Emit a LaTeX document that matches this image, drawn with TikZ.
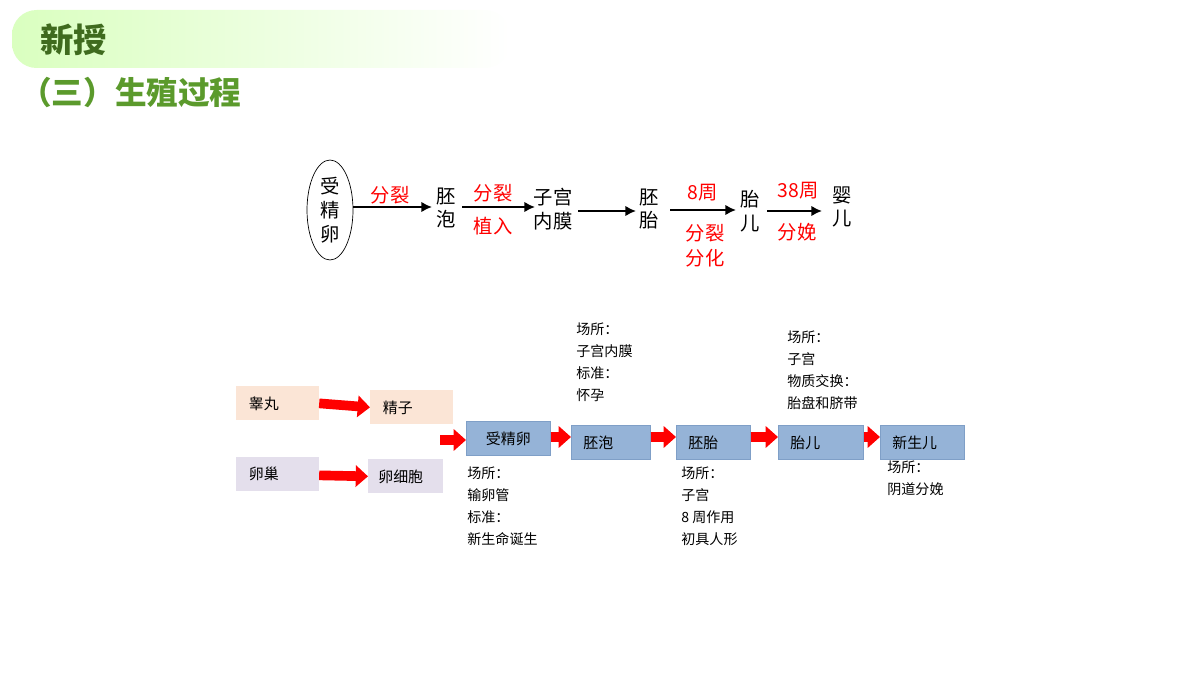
\documentclass[tikz,border=0pt]{standalone}
\usepackage{fontspec}
\setmainfont{Liberation Sans}
\newfontfamily\cjk{Noto Sans CJK SC}
\usetikzlibrary{positioning,arrows.meta,shapes.geometric}
\definecolor{hdgreen}{HTML}{3F6B1E}
\definecolor{ttlgreen}{HTML}{5B9A2C}
\definecolor{peach}{HTML}{FBE5D6}
\definecolor{lilac}{HTML}{E4DFEC}
\definecolor{stepblue}{HTML}{95B3D7}
\definecolor{stepedge}{HTML}{7F9FC7}
\tikzset{
  vtext/.style={font=\cjk\fontsize{11}{13.5}\selectfont, align=center},
  redlbl/.style={font=\cjk\fontsize{11}{14}\selectfont, text=red},
  flow/.style={-{Latex[length=6pt,width=6pt]}, line width=1.5pt},
  organ/.style={font=\cjk\fontsize{8.5}{10}\selectfont, anchor=north west, minimum height=0.68cm, text width=1.15cm, inner sep=0pt, inner xsep=0.25cm},
  stepbox/.style={draw=stepedge, fill=stepblue, font=\cjk\fontsize{8.5}{10}\selectfont, anchor=north west, minimum height=0.68cm, inner sep=0pt, inner xsep=0.24cm},
  note/.style={font=\cjk\fontsize{8}{12.5}\selectfont, anchor=north west, align=left, inner sep=0pt},
  fat/.style={red, line width=5.5pt, -{Triangle[length=7pt,width=12pt]}}
}
\begin{document}
\begin{tikzpicture}[x=0.02cm,y=-0.02cm]
\useasboundingbox (0,0) rectangle (1200,675);
% header band
\shade[left color=green!45!lime!25, right color=white, rounded corners=14pt] (12,10) rectangle (510,68);
\node[font=\cjk\bfseries\fontsize{19}{22}\selectfont, text=hdgreen, anchor=west] (hd) at (34,40) {新授};
\node[font=\cjk\bfseries\fontsize{18}{22}\selectfont, text=ttlgreen, anchor=west] (ttl) at (14,92) {（三）生殖过程};

% top flow
\node[draw, ellipse, minimum width=0.92cm, minimum height=2cm, vtext, inner sep=0pt] (zyg) at (330,210) {受\\精\\卵};
\node[vtext] (pt) at (446,208) {胚\\泡};
\node[vtext] (nm) at (553,209) {子宫\\内膜};
\node[vtext] (pei) at (649,209) {胚\\胎};
\node[vtext] (te) at (750,211) {胎\\儿};
\node[vtext] (ye) at (842,207) {婴\\儿};
\draw[flow] (zyg.east |- 0,207) -- (432,207);
\draw[flow] (462,207) -- (535,207);
\draw[flow] (578,211) -- (636,211);
\draw[flow] (670,210) -- (736,210);
\draw[flow] (767,211) -- (822,211);
\node[redlbl] (l1) at (390,195) {分裂};
\node[redlbl] (l2) at (493,193) {分裂};
\node[redlbl] (l3) at (493,226) {植入};
\node[redlbl] (l4) at (703,193) {8周};
\node[redlbl, align=center] (l5) at (705,246) {分裂\\分化};
\node[redlbl] (l6) at (798,191) {38周};
\node[redlbl] (l7) at (797,232) {分娩};

% bottom flow
\node[organ, fill=peach] (gw) at (236,386) {睾丸};
\node[organ, fill=peach] (jz) at (370,390) {精子};
\node[organ, fill=lilac] (lc) at (236,457) {卵巢};
\node[organ, fill=lilac, text width=1.1cm, inner xsep=0.2cm] (lx) at (368,459) {卵细胞};
\draw[fat] (gw.east) -- (jz.west);
\draw[fat] (lc.east) ++(0,1) -- (lx.west);

\node[stepbox, minimum width=1.68cm] (s1) at (466,421) {受精卵};
\node[stepbox, minimum width=1.58cm, text width=1.1cm] (s2) at (571,425) {胚泡};
\node[stepbox, minimum width=1.48cm, text width=1cm] (s3) at (676,425) {胚胎};
\node[stepbox, minimum width=1.7cm, text width=1.22cm] (s4) at (778,425) {胎儿};
\node[stepbox, minimum width=1.68cm, text width=1.2cm] (s5) at (880,425) {新生儿};
\coordinate (in) at (440,440);
\draw[fat] (in) -- (s1.west |- in);
\draw[fat] (s1.east |- 0,437) -- (s2.west |- 0,437);
\draw[fat] (s2.east |- 0,437) -- (s3.west |- 0,437);
\draw[fat] (s3.east |- 0,437) -- (s4.west |- 0,437);
\draw[fat] (s4.east |- 0,437) -- (s5.west |- 0,437);

\node[note] (n1) at (467,467) {场所：\\输卵管\\标准：\\新生命诞生};
\node[note] (n2) at (576,323) {场所：\\子宫内膜\\标准：\\怀孕};
\node[note] (n3) at (681,467) {场所：\\子宫\\8 周作用\\初具人形};
\node[note] (n4) at (787,331) {场所：\\子宫\\物质交换：\\胎盘和脐带};
\node[note] (n5) at (887,461) {场所：\\阴道分娩};
\end{tikzpicture}
\end{document}
